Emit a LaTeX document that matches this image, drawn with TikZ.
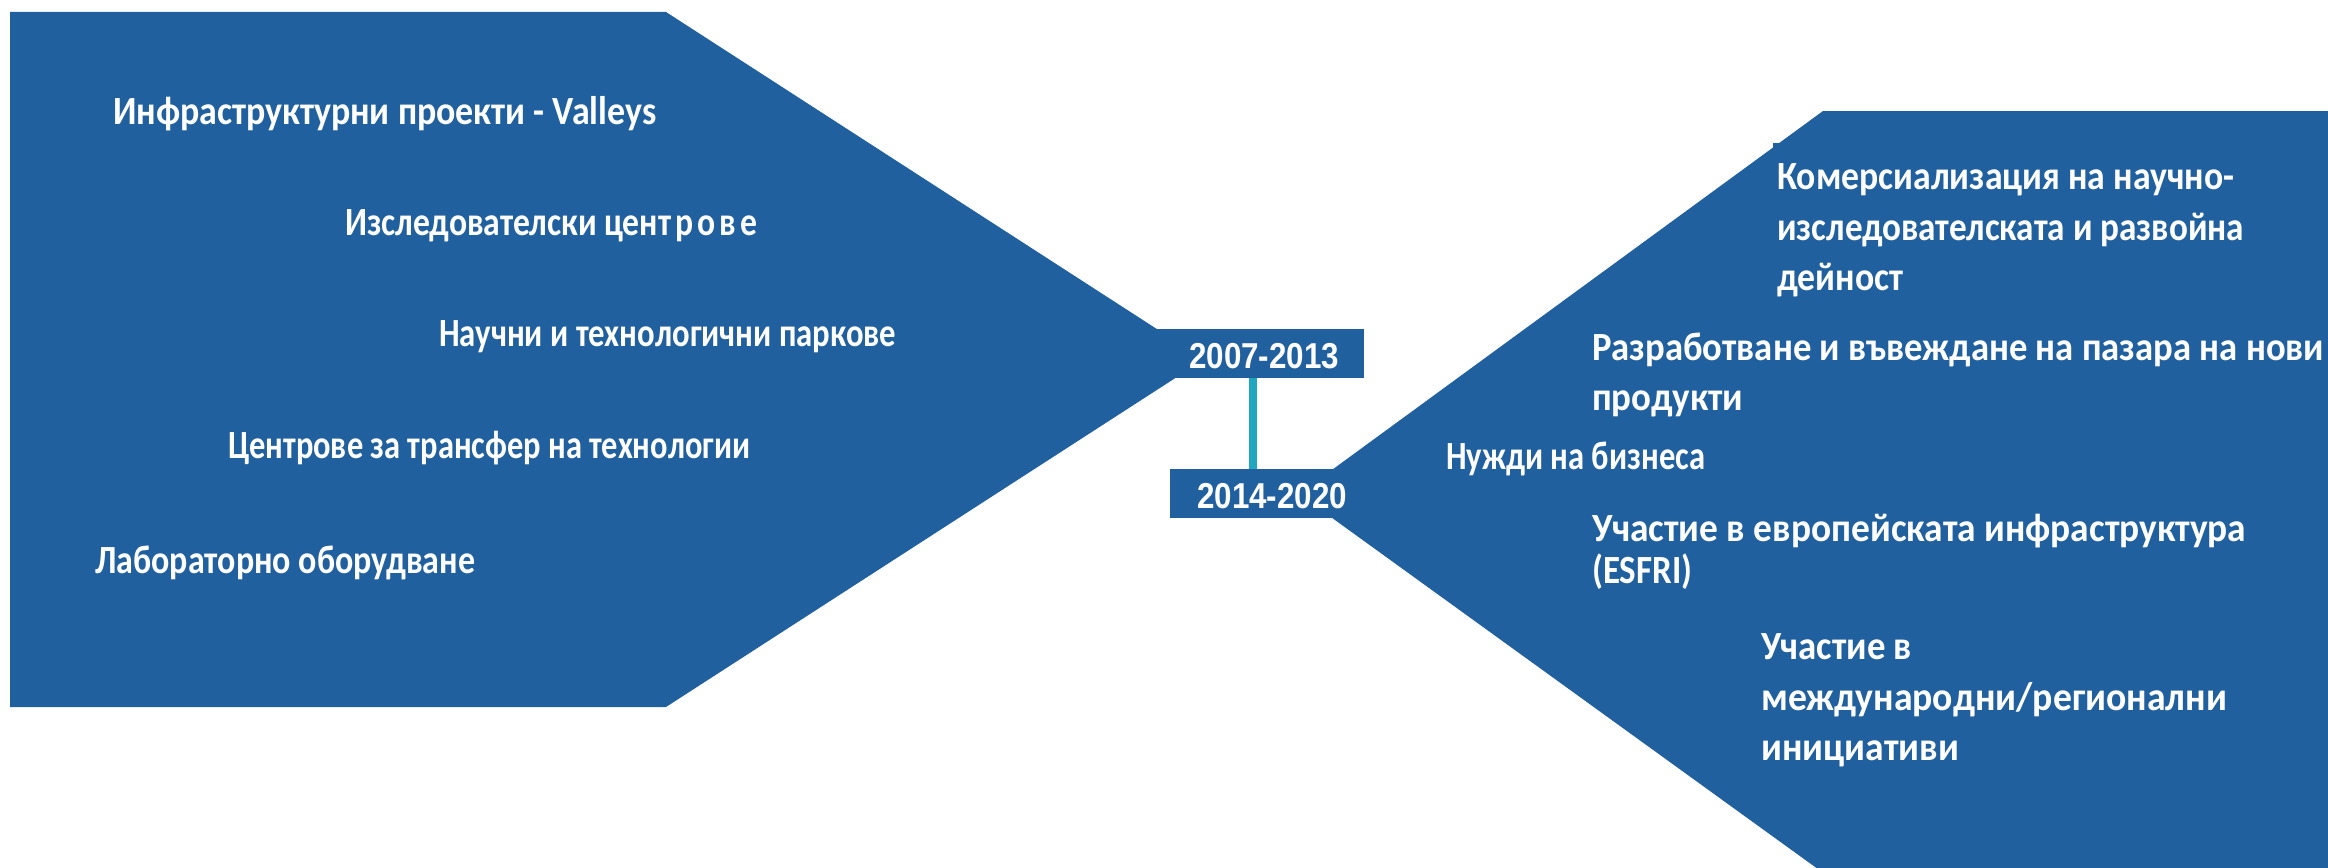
\documentclass[tikz,border=0pt]{standalone}
\usepackage{fontspec}
\usepackage{graphicx}
\newfontfamily\labfont{Carlito}
\newfontfamily\yearfont{Liberation Sans}
\definecolor{shapeblue}{RGB}{33,96,158}
\definecolor{linkteal}{RGB}{31,167,192}
\newcommand\fw[2]{\resizebox{#1pt}{\height}{#2}}
\begin{document}
\begin{tikzpicture}[x=1pt,y=-1pt,
 lab/.style={anchor=base west, inner sep=0pt, text=white, font=\labfont\bfseries\fontsize{40}{48}\selectfont},
 yr/.style={anchor=base west, inner sep=0pt, text=white, font=\yearfont\bfseries\fontsize{36}{42}\selectfont},
 yearbox/.style={fill=shapeblue, draw=none, inner sep=0pt, anchor=north west},
 link/.style={draw=linkteal, line width=8pt}]
\useasboundingbox (0,0) rectangle (2328,867);
\clip (0,0) rectangle (2328,867);
\fill[white] (0,0) rectangle (2328,867);
% shapes
\fill[shapeblue] (10,12) -- (666,12) -- (1204,359.5) -- (666,707) -- (10,707) -- cycle;
\fill[shapeblue] (1299,494) -- (1823,111) -- (2340,111) -- (2340,885) -- (1840,885) -- cycle;
\fill[shapeblue] (1773,143) rectangle (1781,149);
% year boxes
\node[yearbox, minimum width=207pt, minimum height=49pt] (y1) at (1157,329) {};
\node[yearbox, minimum width=167pt, minimum height=49pt] (y2) at (1170,469) {};
\coordinate (lk) at (1253,0);
\draw[link] (lk |- y1.south) -- (lk |- y2.north);
\node[yr] (t1) at (1189,368) {\fw{150}{2007-2013}};
\node[yr] (t2) at (1197,508) {\fw{150}{2014-2020}};
% left labels
\node[lab] (l1) at (113,124) {\fw{543}{Инфраструктурни проекти - Valleys}};
\node[lab] (l2) at (345,235) {\fw{412}{Изследователски цен{\addfontfeature{LetterSpace=12}трове}}};
\node[lab] (l3) at (439,346) {\fw{457}{Научни и технологични паркове}};
\node[lab] (l4) at (228,458) {\fw{522}{Центрове за трансфер на технологии}};
\node[lab] (l5) at (95,573) {\fw{380}{Лабораторно оборудване}};
% right labels
\node[lab] (r1a) at (1777,189) {\fw{457}{Комерсиализация на научно-}};
\node[lab] (r1b) at (1777,240) {\fw{467}{изследователската и развойна}};
\node[lab] (r1c) at (1777,290) {\fw{126}{дейност}};
\node[lab] (r2a) at (1592,360) {\fw{732}{Разработване и въвеждане на пазара на нови}};
\node[lab] (r2b) at (1592,410) {\fw{151}{продукти}};
\node[lab] (r3) at (1446,469) {\fw{259}{Нужди на бизнеса}};
\node[lab] (r4a) at (1592,541) {\fw{654}{Участие в европейската инфраструктура}};
\node[lab] (r4b) at (1592,583) {\fw{100}{(ESFRI)}};
\node[lab] (r5a) at (1761,659) {\fw{151}{Участие в}};
\node[lab] (r5b) at (1761,710) {\fw{466}{международни/регионални}};
\node[lab] (r5c) at (1761,760) {\fw{198}{инициативи}};
\end{tikzpicture}
\end{document}
